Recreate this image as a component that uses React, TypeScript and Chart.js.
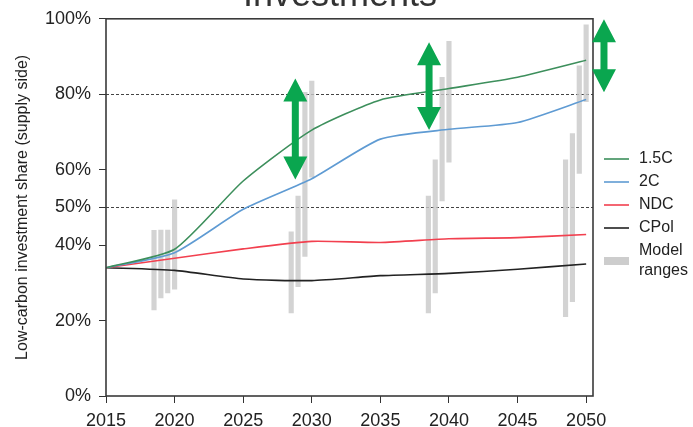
import React, { useEffect, useRef } from 'react';
import { Chart, registerables } from 'chart.js';
Chart.register(...registerables);

const years = [2015, 2020, 2025, 2030, 2035, 2040, 2045, 2050];
const s15C = [34, 38.9, 57, 70.5, 78.5, 81.5, 84.5, 89];
const s2C = [34, 38, 49.5, 57.6, 68.1, 70.7, 72.5, 78.6];
const sNDC = [34, 36.5, 39, 41, 40.7, 41.7, 42, 42.8];
const sCPol = [34, 33.3, 31, 30.6, 31.9, 32.5, 33.6, 35];

const rangeYears = [2018.5, 2019, 2019.5, 2020, 2028.5, 2029, 2029.5, 2030, 2038.5, 2039, 2039.5, 2040, 2048.5, 2049, 2049.5, 2050];
const rangeLow = [22.8, 26, 27.3, 28.3, 22, 29, 37, 58, 22, 27.3, 51.7, 62, 21, 25, 59, 78];
const rangeHigh = [43.9, 44, 44, 52, 43.5, 53, 80.5, 83.5, 53, 62.6, 84.5, 94, 62.6, 69.6, 87.5, 98.4];

const arrowYears = [2028.8, 2038.55, 2051.3];
const arrowLow = [57.4, 70.5, 80.5];
const arrowHigh = [84.2, 93.8, 99.9];

const xTicks = [2015, 2020, 2025, 2030, 2035, 2040, 2045, 2050];
const yTicks = [0, 20, 40, 50, 60, 80, 100];

const seriesLabels = ['1.5C', '2C', 'NDC', 'CPol'];
const seriesColors = ['#3d8f5c', '#5f9bd3', '#f2404f', '#222222'];
const rangeLabel = ['Model', 'ranges'];

const FONT = '"Liberation Sans", Arial, Helvetica, sans-serif';

const extrasPlugin = {
  id: 'extras',
  afterDraw(chart: any) {
    const { ctx, chartArea, scales } = chart;
    const xs = scales.x;
    const ys = scales.y;
    ctx.save();
    // frame
    ctx.strokeStyle = '#3a3a3a';
    ctx.lineWidth = 1.6;
    ctx.strokeRect(chartArea.left, chartArea.top, chartArea.right - chartArea.left, chartArea.bottom - chartArea.top);
    // title (clipped at top)
    ctx.fillStyle = '#333';
    ctx.font = `36px ${FONT}`;
    ctx.textAlign = 'center';
    ctx.textBaseline = 'alphabetic';
    ctx.fillText('Investments', 340, 6);
    // arrows
    ctx.fillStyle = '#0aa64f';
    for (let i = 0; i < arrowYears.length; i++) {
      const x = xs.getPixelForValue(arrowYears[i]);
      const yTop = ys.getPixelForValue(arrowHigh[i]);
      const yBot = ys.getPixelForValue(arrowLow[i]);
      const hw = 12, hh = 23, sw = 3.5;
      ctx.beginPath();
      ctx.moveTo(x, yTop);
      ctx.lineTo(x + hw, yTop + hh);
      ctx.lineTo(x + sw, yTop + hh);
      ctx.lineTo(x + sw, yBot - hh);
      ctx.lineTo(x + hw, yBot - hh);
      ctx.lineTo(x, yBot);
      ctx.lineTo(x - hw, yBot - hh);
      ctx.lineTo(x - sw, yBot - hh);
      ctx.lineTo(x - sw, yTop + hh);
      ctx.lineTo(x - hw, yTop + hh);
      ctx.closePath();
      ctx.fill();
    }
    // legend
    const lx0 = chartArea.right + 11;
    const lx1 = chartArea.right + 36;
    const tx = chartArea.right + 46;
    ctx.font = `16px ${FONT}`;
    ctx.textAlign = 'left';
    ctx.textBaseline = 'middle';
    for (let i = 0; i < seriesLabels.length; i++) {
      const y = 159 + i * 23;
      ctx.strokeStyle = seriesColors[i];
      ctx.lineWidth = 1.6;
      ctx.beginPath();
      ctx.moveTo(lx0, y);
      ctx.lineTo(lx1, y);
      ctx.stroke();
      ctx.fillStyle = '#222';
      ctx.fillText(seriesLabels[i], tx, y);
    }
    ctx.fillStyle = 'rgba(200,200,200,0.9)';
    ctx.fillRect(lx0, 257, lx1 - lx0, 8);
    ctx.fillStyle = '#222';
    ctx.fillText(rangeLabel[0], tx, 251);
    ctx.fillText(rangeLabel[1], tx, 271);
    ctx.restore();
  },
};

export default function App() {
  const ref = useRef<HTMLCanvasElement | null>(null);
  useEffect(() => {
    if (!ref.current) return;
    const mk = (label: string, data: number[], color: string) => ({
      type: 'line' as const,
      label,
      data: years.map((y, i) => ({ x: y, y: data[i] })),
      borderColor: color,
      backgroundColor: color,
      borderWidth: 1.6,
      pointRadius: 0,
      tension: 0.2,
      order: 1,
    });
    const chart = new Chart(ref.current, {
      type: 'line',
      data: {
        datasets: [
          mk(seriesLabels[0], s15C, seriesColors[0]),
          mk(seriesLabels[1], s2C, seriesColors[1]),
          mk(seriesLabels[2], sNDC, seriesColors[2]),
          mk(seriesLabels[3], sCPol, seriesColors[3]),
          {
            type: 'bar' as const,
            label: rangeLabel.join(' '),
            data: rangeYears.map((y, i) => ({ x: y, y: [rangeLow[i], rangeHigh[i]] })) as any,
            backgroundColor: 'rgba(200,200,200,0.8)',
            borderWidth: 0,
            barThickness: 4.5,
            order: 2,
          } as any,
        ],
      },
      options: {
        responsive: false,
        animation: false,
        events: [],
        layout: { padding: { top: 14, right: 100, left: 0, bottom: 0 } },
        plugins: { legend: { display: false }, tooltip: { enabled: false }, title: { display: false } },
        scales: {
          x: {
            type: 'linear',
            min: 2015,
            max: 2050.5,
            offset: false,
            afterBuildTicks: (s: any) => { s.ticks = xTicks.map((v) => ({ value: v })); },
            afterFit: (s: any) => { s.height = 31; },
            ticks: {
              autoSkip: false,
              maxRotation: 0,
              padding: 7,
              color: '#222',
              font: { family: FONT, size: 18 },
              callback: (v: any) => String(v),
            },
            grid: { color: 'transparent', tickColor: '#333', tickLength: 7, lineWidth: 1, offset: false },
            border: { display: false },
          },
          y: {
            type: 'linear',
            min: 0,
            max: 100,
            afterBuildTicks: (s: any) => { s.ticks = yTicks.map((v) => ({ value: v })); },
            afterFit: (s: any) => { s.width = 106; },
            ticks: {
              autoSkip: false,
              padding: 8,
              color: '#222',
              font: { family: FONT, size: 18 },
              callback: (v: any) => v + '%',
            },
            grid: {
              color: (c: any) => (c.tick && (c.tick.value === 50 || c.tick.value === 80) ? '#444' : 'transparent'),
              tickColor: '#333',
              tickLength: 7,
              lineWidth: 1,
            },
            border: { display: false, dash: [3, 2] },
            title: {
              display: true,
              text: 'Low-carbon investment share (supply side)',
              color: '#222',
              font: { family: FONT, size: 16 },
              padding: { top: 13, bottom: 0 },
            },
          },
        },
      },
      plugins: [extrasPlugin],
    } as any);
    return () => chart.destroy();
  }, []);
  return (
    <div style={{ position: 'absolute', left: 0, top: 0, width: 693, height: 427, background: '#fff' }}>
      <canvas ref={ref} width={693} height={427} style={{ display: 'block' }} />
    </div>
  );
}
